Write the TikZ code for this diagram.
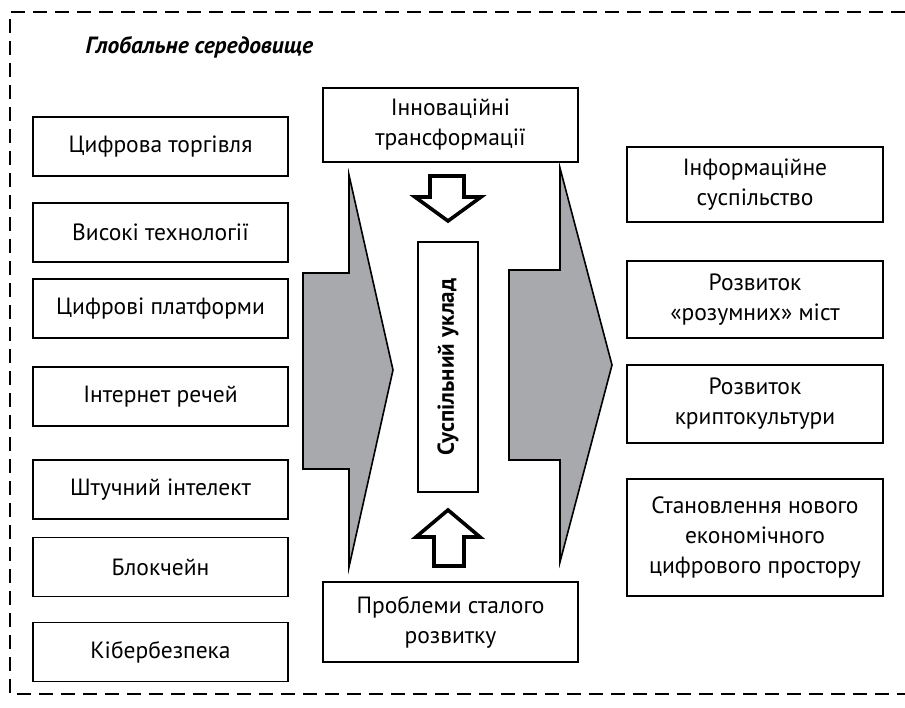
\documentclass[tikz,border=0pt]{standalone}
\usepackage{fontspec}
\setmainfont{PT Sans}
\definecolor{arrowgrey}{HTML}{A7A9AC}
\begin{document}
\begin{tikzpicture}[x=1pt,y=-1pt,
  box/.style={draw, line width=1.6pt, align=center, inner sep=0pt,
    font=\fontsize{23.5}{30}\selectfont},
  lbox/.style={box, minimum width=255pt, minimum height=59pt},
  rbox/.style={box, minimum width=256pt},
  greyshape/.style={draw, fill=arrowgrey, line width=1.6pt, line join=miter},
  hollow/.style={draw, fill=white, line width=3.6pt, line join=miter},
  border/.style={line width=1.3pt, dash pattern=on 14pt off 8pt}]
\fill[white] (0,0) rectangle (905,708);
\useasboundingbox (0,0) rectangle (905,708);
\coordinate (btr) at (905,12);
\coordinate (btl) at (10,12);
\coordinate (bbl) at (10,694);
\coordinate (bbr) at (905,694);
\draw[border] (btr) -- (btl) -- (bbl) -- (bbr);
\node[anchor=west, font=\fontsize{23.5}{26}\selectfont\bfseries\itshape] (title) at (82,47) {Глобальне середовище};
% left column
\node[lbox] (l1) at (160.5,146.5) {Цифрова торгівля};
\node[lbox] (l2) at (160.5,232.5) {Високі технології};
\node[lbox] (l3) at (160.5,308.5) {Цифрові платформи};
\node[lbox] (l4) at (160.5,396.5) {Інтернет речей};
\node[lbox] (l5) at (160.5,489.5) {Штучний інтелект};
\node[lbox] (l6) at (160.5,567) {Блокчейн};
\node[lbox] (l7) at (160.5,652) {Кібербезпека};
% right column
\node[rbox, minimum height=75pt] (r1) at (755,184.5) {Інформаційне\\суспільство};
\node[rbox, minimum height=77pt] (r2) at (755,299.5) {Розвиток\\«розумних» міст};
\node[rbox, minimum height=78pt] (r3) at (755,404) {Розвиток\\криптокультури};
\node[rbox, minimum height=117pt] (r4) at (755,537.5) {Становлення нового\\економічного\\цифрового простору};
% centre
\node[box, minimum width=255pt, minimum height=74pt] (top) at (450.5,125) {Інноваційні\\трансформації};
\node[box, minimum width=255pt, minimum height=80pt] (bot) at (450.5,622) {Проблеми сталого\\розвитку};
% grey arrows
\draw[greyshape] (303,273) -- (349,273) -- (349,175) -- (393,370) -- (349,567) -- (349,469) -- (303,469) -- cycle;
\draw[greyshape] (509,270) -- (560,270) -- (560,168) -- (612,365) -- (560,562) -- (560,460) -- (509,460) -- cycle;
\node[box, minimum width=60pt, minimum height=250pt] (mid) at (448,367) {};
\node[rotate=90, font=\fontsize{23}{26}\selectfont\bfseries] (midtext) at (mid.center) {Суспільний уклад};
% hollow arrows
\draw[hollow] (430,176) -- (464,176) -- (464,197) -- (481,197) -- (448,221) -- (415,197) -- (430,197) -- cycle;
\draw[hollow] (448,510) -- (480,537) -- (464,537) -- (464,566) -- (434,566) -- (434,537) -- (416,537) -- cycle;
\end{tikzpicture}
\end{document}
